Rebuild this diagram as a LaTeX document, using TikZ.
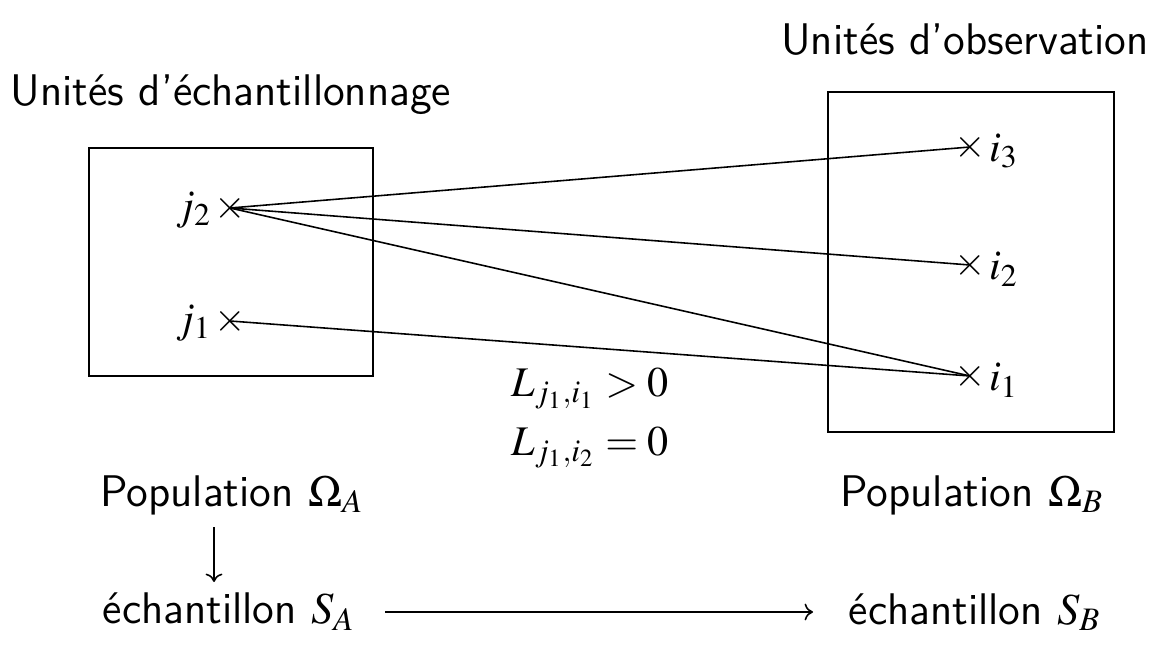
\documentclass[tikz,border=0pt]{standalone}
\usepackage{mathptmx}
\usepackage[no-math]{fontspec}
\setsansfont{Latin Modern Sans}
\usetikzlibrary{arrows.meta}
\begin{document}
\begin{tikzpicture}[x=0.01cm,y=-0.01cm,
  txt/.style={font=\sffamily\fontsize{12.6}{15}\selectfont, inner sep=1pt},
  mth/.style={font=\fontsize{12}{14.2}\selectfont, inner sep=1pt},
  cross/.style={font=\fontsize{11.5}{13}\selectfont, inner sep=0pt},
  popbox/.style={draw, line width=0.45pt, minimum width=#1, inner sep=0pt},
  link/.style={line width=0.45pt},
  flow/.style={line width=0.45pt, -{To[length=2.4pt,width=4.8pt]}}]
\useasboundingbox (0,0) rectangle (1158,646);
% boxes
\node[popbox=2.84cm, minimum height=2.28cm] (boxA) at (231,262) {};
\node[popbox=2.86cm, minimum height=3.40cm] (boxB) at (971,262) {};
% titles
\node[txt] (tA) at (231,95) {Unités d'échantillonnage};
\node[txt] (tB) at (965,40) {Unités d'observation};
% crosses
\node[cross] (j2) at (230,208) {$\times$};
\node[cross] (j1) at (230,321) {$\times$};
\node[cross] (i3) at (970,147) {$\times$};
\node[cross] (i2) at (970,265) {$\times$};
\node[cross] (i1) at (970,376) {$\times$};
% labels
\node[mth, anchor=east] (lj2) at (216,210) {$j_2$};
\node[mth, anchor=east] (lj1) at (216,323) {$j_1$};
\node[mth, anchor=west] (li3) at (985,151) {$i_3$};
\node[mth, anchor=west] (li2) at (985,269) {$i_2$};
\node[mth, anchor=west] (li1) at (985,380) {$i_1$};
% links
\draw[link] (j2.center) -- (i3.center);
\draw[link] (j2.center) -- (i2.center);
\draw[link] (j2.center) -- (i1.center);
\draw[link] (j1.center) -- (i1.center);
% L values
\node[mth, align=center] (Lv) at (590,418) {$L_{j_1,i_1}>0$\\[2.5pt]$L_{j_1,i_2}=0$};
% populations
\node[txt] (pA) at (232,495) {Population $\Omega_A$};
\node[txt] (pB) at (972,495) {Population $\Omega_B$};
\node[txt] (sA) at (229,612) {échantillon $S_A$};
\node[txt] (sB) at (975,612) {échantillon $S_B$};
\coordinate (vtop) at (214,527);
\coordinate (vbot) at (214,582);
\coordinate (hl) at (385,0);
\coordinate (hr) at (813,0);
\draw[flow] (vtop) -- (vbot);
\draw[flow] (sA.east -| hl) -- (sB.west -| hr);
\end{tikzpicture}
\end{document}
